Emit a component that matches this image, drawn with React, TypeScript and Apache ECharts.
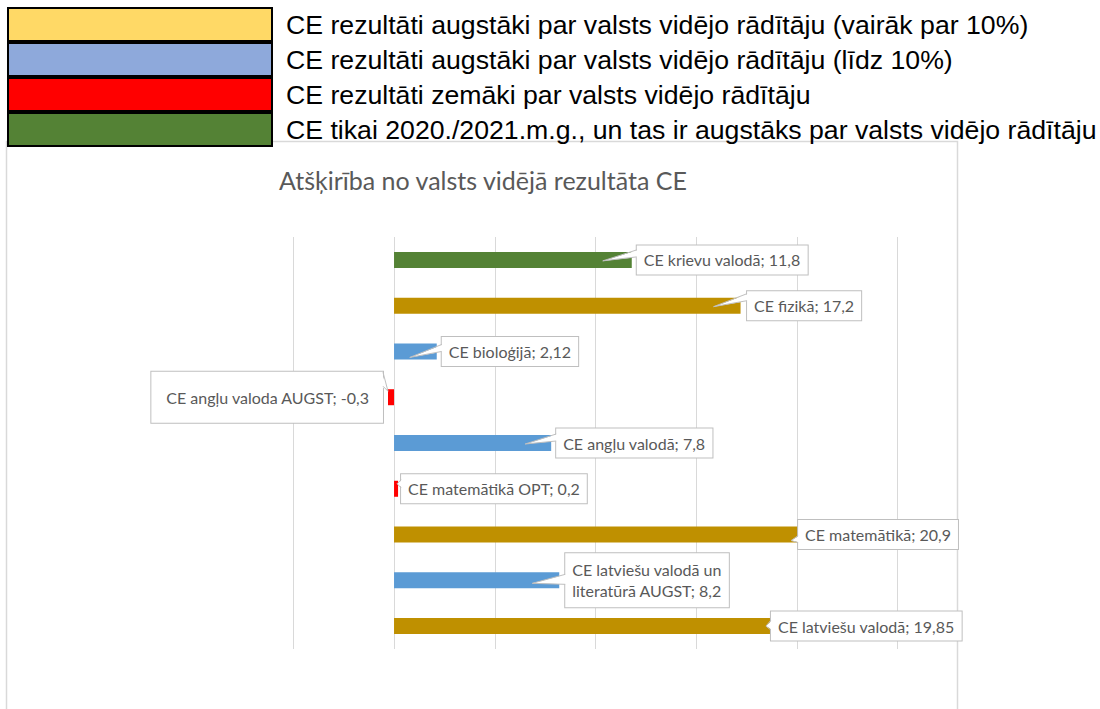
import React, { useEffect, useRef } from 'react';
import * as echarts from 'echarts';

// ---- data ----
const legendLabels = [
  'CE rezultāti augstāki par valsts vidējo rādītāju (vairāk par 10%)',
  'CE rezultāti augstāki par valsts vidējo rādītāju (līdz 10%)',
  'CE rezultāti zemāki par valsts vidējo rādītāju',
  'CE tikai 2020./2021.m.g., un tas ir augstāks par valsts vidējo rādītāju',
];
const subjects = [
  'CE krievu valodā',
  'CE fizikā',
  'CE bioloģijā',
  'CE angļu valoda AUGST',
  'CE angļu valodā',
  'CE matemātikā OPT',
  'CE matemātikā',
  'CE latviešu valodā un literatūrā AUGST',
  'CE latviešu valodā',
];
const differences = [11.8, 17.2, 2.12, -0.3, 7.8, 0.2, 20.9, 8.2, 19.85];
const groupOf = [3, 0, 1, 2, 1, 2, 0, 1, 0];
const axisMin = -5;
const axisMax = 25;
const axisStep = 5;
const chartTitle = 'Atšķirība no valsts vidējā rezultāta CE';

// ---- styles ----
const legendColors = ['#FFD966', '#8EA9DB', '#FF0000', '#548235'];
const barColors = ['#BF9000', '#5B9BD5', '#FF0000', '#548235'];
const LABEL_DIST = 5;
const labelShift = [0, 1.5, 0, 0, 0, -2, -22, 1, -28];
// callout pointer: [tip x rel. bar end, tip y rel. centre, base y1, base y2]
const wedges = [
  [-29, 1, -10, -3],
  [-27, 1, -12, -5],
  [-27, 6, -7, 0],
  [0, -6, -25, -11],
  [-26, 1, -9, -2],
  [-1, -5, -9, -1],
  [-24, 6, 1, 8],
  [-27, 3, -6, 4],
  [-28, 0, -6, 4],
];
const labelExtra: Record<number, any> = {
  3: { padding: [17, 14, 17, 14] },
  7: { lineHeight: 21 },
};
// number of words on the first line of a wrapped label
const wrapAfterWords: Record<number, number> = { 7: 4 };

const fmt = (v: number) => String(v).replace('.', ',');
const labelText = (name: string, value: number, idx: number) => {
  const full = `${name}; ${fmt(value)}`;
  const n = wrapAfterWords[idx];
  if (!n) return full;
  const words = full.split(' ');
  return words.slice(0, n).join(' ') + '\n' + words.slice(n).join(' ');
};

export default function App() {
  const ref = useRef<HTMLDivElement>(null);
  useEffect(() => {
    document.body.style.margin = '0';
    const chart = echarts.init(ref.current!, null, { renderer: 'svg' });

    const barSeries = legendLabels.map((name, g) => ({
      name,
      type: 'bar',
      stack: 'all',
      barWidth: 16,
      itemStyle: { color: barColors[g] },
      label: {
        show: true,
        position: 'right',
        distance: LABEL_DIST,
        formatter: (p: any) => labelText(p.name, p.value, p.dataIndex),
        fontFamily: 'Lato',
        fontSize: 16,
        lineHeight: 17,
        color: '#595959',
        backgroundColor: '#ffffff',
        borderColor: '#bfbfbf',
        borderWidth: 1,
        padding: [6, 7, 6, 7],
      },
      labelLayout: (p: any) => ({
        dx: differences[p.dataIndex] < 0 ? -labelShift[p.dataIndex] : labelShift[p.dataIndex],
      }),
      data: differences.map((v, i) =>
        groupOf[i] === g
          ? {
              value: v,
              label: { position: v < 0 ? 'left' : 'right', ...(labelExtra[i] || {}) },
            }
          : '-'
      ),
    }));

    const calloutSeries = {
      type: 'custom',
      name: 'callouts',
      z: 10,
      silent: true,
      data: differences.map((v, i) => [v, i]),
      encode: { x: 0, y: 1 },
      renderItem: (params: any, api: any) => {
        const i = params.dataIndex;
        const v = api.value(0);
        const [ex, cy] = api.coord([v, i]);
        const neg = v < 0;
        const boxEdge = neg ? ex - LABEL_DIST - labelShift[i] : ex + LABEL_DIST + labelShift[i];
        const [tx, ty, b1, b2] = wedges[i];
        const tip = [ex + tx, cy + ty];
        const inner = neg ? -1.5 : 1.5;
        return {
          type: 'group',
          children: [
            {
              type: 'polygon',
              shape: { points: [[boxEdge + inner, cy + b1], tip, [boxEdge + inner, cy + b2]] },
              style: { fill: '#ffffff' },
            },
            {
              type: 'polyline',
              shape: { points: [[boxEdge, cy + b1], tip, [boxEdge, cy + b2]] },
              style: { stroke: '#bfbfbf', lineWidth: 1, fill: null },
            },
          ],
        };
      },
    };

    chart.setOption({
      animation: false,
      title: {
        text: chartTitle,
        left: 279,
        top: 167,
        padding: 0,
        textStyle: { fontFamily: 'Lato', fontSize: 25, fontWeight: 'normal', color: '#595959' },
      },
      legend: {
        orient: 'vertical',
        left: 7,
        top: 7,
        padding: 0,
        itemWidth: 264,
        itemHeight: 33,
        itemGap: 0,
        icon: 'rect',
        selectedMode: false,
        itemStyle: { borderColor: '#000000', borderWidth: 2 },
        textStyle: {
          fontFamily: '"Liberation Sans", Arial',
          fontSize: 26.67,
          lineHeight: 33,
          color: '#000000',
          padding: [0, 0, 0, 9],
        },
        data: legendLabels.map((name, g) => ({
          name,
          itemStyle: { color: legendColors[g], borderColor: '#000000', borderWidth: 2 },
        })),
      },
      graphic: [
        {
          type: 'rect',
          shape: { x: 6.5, y: 141.5, width: 951, height: 620 },
          style: { fill: 'none', stroke: '#d9d9d9', lineWidth: 1.5 },
          silent: true,
          z: -1,
        },
      ],
      grid: { left: 293.3, right: 1100 - 897.7, top: 237, bottom: 709 - 649 },
      xAxis: {
        type: 'value',
        min: axisMin,
        max: axisMax,
        interval: axisStep,
        axisLabel: { show: false },
        axisLine: { show: false },
        axisTick: { show: false },
        splitLine: { show: true, lineStyle: { color: '#d9d9d9', width: 1 } },
      },
      yAxis: {
        type: 'category',
        data: subjects,
        inverse: true,
        axisLabel: { show: false },
        axisLine: { show: false },
        axisTick: { show: false },
      },
      series: [...barSeries, calloutSeries],
    });
    return () => chart.dispose();
  }, []);
  return <div ref={ref} style={{ width: 1100, height: 709 }} />;
}
